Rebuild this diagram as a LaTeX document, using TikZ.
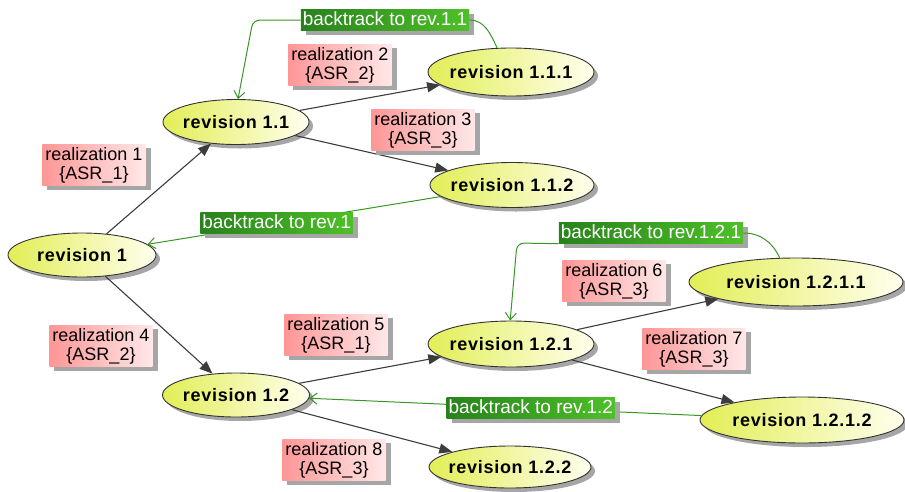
\documentclass[tikz,border=0pt]{standalone}
\usepackage{fontspec}
\setmainfont{Liberation Sans}
\newfontfamily\revfont[LetterSpace=4]{Liberation Sans}
\usetikzlibrary{shapes.geometric,shadows,arrows.meta}
\definecolor{ellL}{RGB}{226,238,86}
\definecolor{ellR}{RGB}{255,255,238}
\definecolor{pinkL}{RGB}{255,150,150}
\definecolor{pinkR}{RGB}{255,232,232}
\definecolor{grnL}{RGB}{40,130,28}
\definecolor{grnR}{RGB}{78,192,40}
\definecolor{btgreen}{RGB}{58,150,36}
\definecolor{edgegray}{RGB}{60,60,60}
\newcommand{\rvtxt}[1]{\makebox[0pt]{#1}}
\tikzset{
  rev/.style={ellipse, draw=black!80, line width=0.9pt, left color=ellL, right color=ellR,
    inner sep=0pt, drop shadow={shadow xshift=4pt,shadow yshift=-4pt,fill=black!35,opacity=1},
    font=\revfont\bfseries\fontsize{18}{20}\selectfont},
  real/.style={rectangle, left color=pinkL, right color=pinkR, inner xsep=3pt, inner ysep=3pt,
    align=center, drop shadow={shadow xshift=5pt,shadow yshift=-4pt,fill=black!35,opacity=1},
    font=\fontsize{18}{19}\selectfont},
  btlab/.style={rectangle, left color=grnL, right color=grnR, text=white, inner xsep=2pt, inner ysep=2pt,
    text height=14pt, text depth=3pt,
    drop shadow={shadow xshift=5pt,shadow yshift=-4pt,fill=black!35,opacity=1},
    font=\fontsize{19}{20}\selectfont},
  flow/.style={draw=edgegray, line width=1.1pt, -{Triangle[length=13pt,width=10pt]}},
  bt/.style={draw=btgreen, line width=1pt, -{Straight Barb[length=7pt,width=11pt]}},
  btline/.style={draw=btgreen, line width=1pt}
}
\begin{document}
\begin{tikzpicture}[x=1pt,y=-1pt]
\useasboundingbox (0,0) rectangle (905,491);
% revisions
\node[rev, minimum width=148pt, minimum height=44pt] (r1) at (82,255) {\rvtxt{revision 1}};
\node[rev, minimum width=146pt, minimum height=45pt] (r11) at (236,122) {\rvtxt{revision 1.1}};
\node[rev, minimum width=166pt, minimum height=48pt] (r111) at (511,72) {\rvtxt{revision 1.1.1}};
\node[rev, minimum width=164pt, minimum height=45pt] (r112) at (512,185) {\rvtxt{revision 1.1.2}};
\node[rev, minimum width=147pt, minimum height=44pt] (r12) at (236,395) {\rvtxt{revision 1.2}};
\node[rev, minimum width=166pt, minimum height=46pt] (r121) at (511,344) {\rvtxt{revision 1.2.1}};
\node[rev, minimum width=214pt, minimum height=48pt] (r1211) at (796,282) {\rvtxt{revision 1.2.1.1}};
\node[rev, minimum width=204pt, minimum height=46pt] (r1212) at (802,420) {\rvtxt{revision 1.2.1.2}};
\node[rev, minimum width=162pt, minimum height=42pt] (r122) at (510,467) {\rvtxt{revision 1.2.2}};
% realization edges
\draw[flow] (r1) -- (r11);
\draw[flow] (r11) -- (r111);
\draw[flow] (r11) -- (r112);
\draw[flow] (r1) -- (r12);
\draw[flow] (r12) -- (r121);
\draw[flow] (r121) -- (r1211);
\draw[flow] (r121) -- (r1212);
\draw[flow] (r12) -- (r122);
% realization labels
\node[real] (l1) at (94,165) {realization 1\\\{ASR\_1\}};
\node[real] (l2) at (340,65) {realization 2\\\{ASR\_2\}};
\node[real] (l3) at (423,130) {realization 3\\\{ASR\_3\}};
\node[real] (l4) at (101,346) {realization 4\\\{ASR\_2\}};
\node[real] (l5) at (336,335) {realization 5\\\{ASR\_1\}};
\node[real] (l6) at (614,281) {realization 6\\\{ASR\_3\}};
\node[real] (l7) at (694,349) {realization 7\\\{ASR\_3\}};
\node[real] (l8) at (334,460) {realization 8\\\{ASR\_3\}};
% backtracks
\draw[bt] (r112) -- node[btlab,pos=0.56] (b1) {backtrack to rev.1} (r1);
\draw[bt] (r1212) -- node[btlab,pos=0.435] (b12) {backtrack to rev.1.2} (r12);
\node[btlab] (b11) at (385,20) {backtrack to rev.1.1};
\coordinate (c11) at (253,20);
\draw[btline] (r111.120) to[out=115,in=0] (b11.east);
\draw[bt, rounded corners=7pt] (b11.west) -- (c11) -- (r11.85);
\node[btlab] (b121) at (651,233) {backtrack to rev.1.2.1};
\coordinate (c121) at (517,243);
\draw[btline] (r1211.124) to[out=115,in=0] (b121.east);
\draw[bt, rounded corners=7pt] (b121.south west) -- (c121) -- (r121.92);
\end{tikzpicture}
\end{document}
